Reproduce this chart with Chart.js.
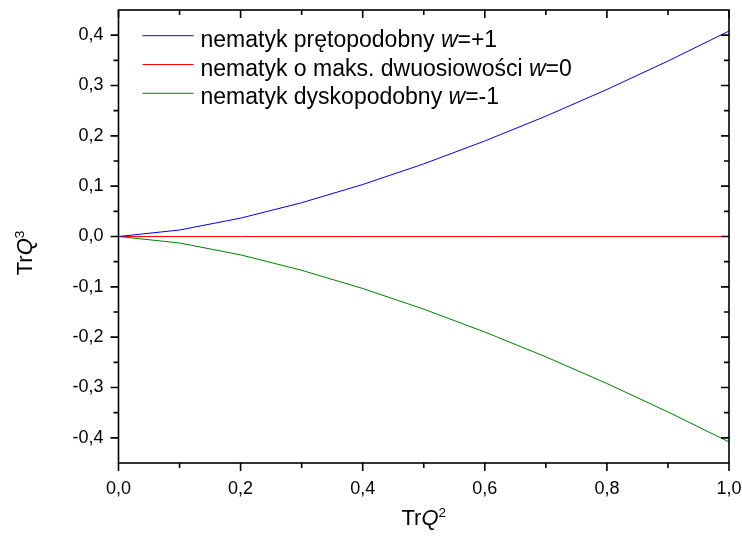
<!DOCTYPE html>
<html>
<head>
<meta charset="utf-8">
<script src="https://cdn.jsdelivr.net/npm/chart.js@4"></script>
<style>
  html, body { margin: 0; padding: 0; background: #fff; }
  canvas { display: block; }
</style>
</head>
<body>
<canvas id="chart" width="742" height="539"></canvas>
<script>
// Tr Q^2 sampling points and Tr Q^3 values for the three nematic phases
const trQ2 = [0, 0.1, 0.2, 0.3, 0.4, 0.5, 0.6, 0.7, 0.8, 0.9, 1.0];
const rodLike = [0, 0.0129, 0.0365, 0.0671, 0.1033, 0.1443, 0.1898, 0.2391, 0.2921, 0.3486, 0.4082];
const biaxial = [0, 0, 0, 0, 0, 0, 0, 0, 0, 0, 0];
const discLike = [0, -0.0129, -0.0365, -0.0671, -0.1033, -0.1443, -0.1898, -0.2391, -0.2921, -0.3486, -0.4082];

const seriesNames = [
  "nematyk prętopodobny w=+1",
  "nematyk o maks. dwuosiowości w=0",
  "nematyk dyskopodobny w=-1"
];
// legend entries split into runs: [text, italic?]
const legendRuns = [
  [["nematyk prętopodobny ", false], ["w", true], ["=+1", false]],
  [["nematyk o maks. dwuosiowości ", false], ["w", true], ["=0", false]],
  [["nematyk dyskopodobny ", false], ["w", true], ["=-1", false]]
];
const seriesColors = ["#0000ff", "#ff0000", "#008000"];

const xTicks = [0, 0.2, 0.4, 0.6, 0.8, 1.0];
const xMinor = [0.1, 0.3, 0.5, 0.7, 0.9];
const yTicks = [-0.4, -0.3, -0.2, -0.1, 0, 0.1, 0.2, 0.3, 0.4];
const yMinor = [-0.35, -0.25, -0.15, -0.05, 0.05, 0.15, 0.25, 0.35];

const FONT = '"Liberation Sans", Arial, sans-serif';
const fmt = v => v.toFixed(1).replace('.', ',');

// draws a run list, returns its width
function drawRuns(ctx, runs, x, y, size, measureOnly) {
  let cx = x;
  for (const [t, italic, sup] of runs) {
    const s = sup ? size * 0.62 : size;
    ctx.font = (italic ? 'italic ' : '') + s + 'px ' + FONT;
    const dy = sup ? -size * 0.38 : 0;
    if (!measureOnly) ctx.fillText(t, cx, y + dy);
    cx += ctx.measureText(t).width;
  }
  return cx - x;
}

function noPad(s) {
  s.paddingLeft = 0; s.paddingRight = 0; s.paddingTop = 0; s.paddingBottom = 0;
}

const framePlugin = {
  id: 'frame',
  afterDraw(chart) {
    const { ctx, chartArea: a, scales } = chart;
    const xs = scales.x, ys = scales.y;
    ctx.save();
    ctx.strokeStyle = '#000';
    ctx.lineWidth = 1.6;
    ctx.strokeRect(a.left, a.top, a.right - a.left, a.bottom - a.top);

    const major = 8, minor = 5;
    ctx.beginPath();
    const xt = (v, len) => {
      const p = xs.getPixelForValue(v);
      ctx.moveTo(p, a.bottom); ctx.lineTo(p, a.bottom + len);
      ctx.moveTo(p, a.top); ctx.lineTo(p, a.top + len);
    };
    const yt = (v, len) => {
      const p = ys.getPixelForValue(v);
      ctx.moveTo(a.left, p); ctx.lineTo(a.left - len, p);
      ctx.moveTo(a.right, p); ctx.lineTo(a.right - len, p);
    };
    xTicks.forEach(v => xt(v, major));
    xMinor.forEach(v => xt(v, minor));
    yTicks.forEach(v => yt(v, major));
    yMinor.forEach(v => yt(v, minor));
    ctx.stroke();

    // axis titles
    ctx.fillStyle = '#000';
    ctx.textBaseline = 'alphabetic';
    ctx.textAlign = 'left';
    const tSize = 22;
    const xRuns = [["Tr", false], ["Q", true], ["2", false, true]];
    const xw = drawRuns(ctx, xRuns, 0, 0, tSize, true);
    drawRuns(ctx, xRuns, (a.left + a.right) / 2 - xw / 2, 525, tSize);

    const yRuns = [["Tr", false], ["Q", true], ["3", false, true]];
    const yw = drawRuns(ctx, yRuns, 0, 0, tSize, true);
    ctx.save();
    ctx.translate(32, 253);
    ctx.rotate(-Math.PI / 2);
    drawRuns(ctx, yRuns, -yw / 2, 0, tSize);
    ctx.restore();

    // legend
    const lx0 = a.left + 24, lx1 = a.left + 75, tx = a.left + 82;
    const rowY = [a.top + 25.7, a.top + 54.5, a.top + 83.3];
    legendRuns.forEach((runs, i) => {
      ctx.strokeStyle = seriesColors[i];
      ctx.lineWidth = 1;
      ctx.beginPath();
      ctx.moveTo(lx0, rowY[i]); ctx.lineTo(lx1, rowY[i]);
      ctx.stroke();
      ctx.fillStyle = '#000';
      drawRuns(ctx, runs, tx, rowY[i] + 11, 23);
    });
    ctx.restore();
  }
};

const makeSet = (i, values) => ({
  label: seriesNames[i],
  data: trQ2.map((x, k) => ({ x, y: values[k] })),
  borderColor: seriesColors[i],
  backgroundColor: seriesColors[i],
  borderWidth: 1,
  pointRadius: 0,
  tension: 0,
  fill: false
});

new Chart(document.getElementById('chart'), {
  type: 'line',
  data: {
    datasets: [makeSet(0, rodLike), makeSet(1, biaxial), makeSet(2, discLike)]
  },
  options: {
    responsive: false,
    animation: false,
    layout: { padding: { left: 0, right: 13, top: 10, bottom: 0 } },
    plugins: { legend: { display: false }, tooltip: { enabled: false } },
    scales: {
      x: {
        type: 'linear',
        min: 0, max: 1,
        grid: { display: false, drawTicks: false },
        border: { display: false },
        afterBuildTicks: s => { s.ticks = xTicks.map(v => ({ value: v })); },
        afterFit: s => { s.height = 76; noPad(s); },
        ticks: {
          color: '#000',
          font: { family: FONT, size: 18 },
          padding: 15,
          maxRotation: 0,
          callback: v => fmt(v)
        }
      },
      y: {
        type: 'linear',
        min: -0.45, max: 0.45,
        grid: { display: false, drawTicks: false },
        border: { display: false },
        afterBuildTicks: s => { s.ticks = yTicks.map(v => ({ value: v })); },
        afterFit: s => { s.width = 118.5; noPad(s); },
        ticks: {
          color: '#000',
          font: { family: FONT, size: 18 },
          padding: 15,
          callback: v => fmt(v)
        }
      }
    }
  },
  plugins: [framePlugin]
});
</script>
</body>
</html>
